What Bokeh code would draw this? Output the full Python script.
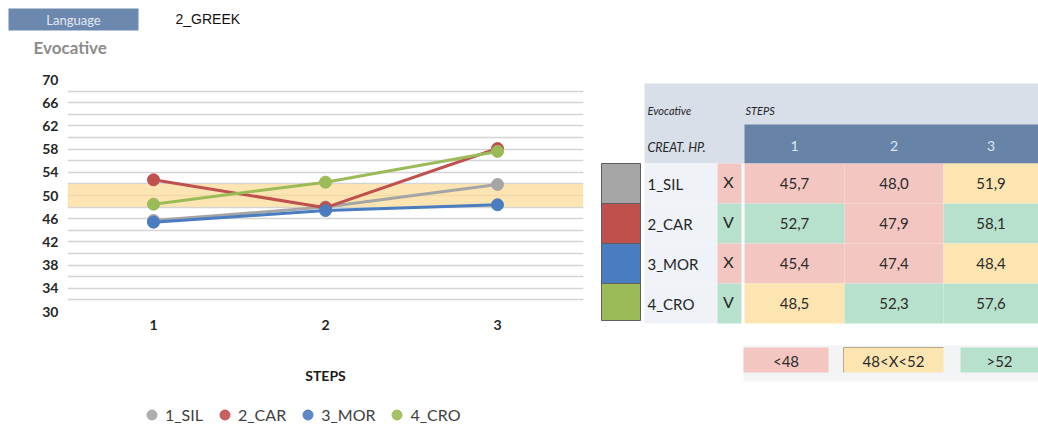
from bokeh.plotting import figure
from bokeh.layouts import column, row
from bokeh.models import (ColumnDataSource, FactorRange, Range1d, FixedTicker,
                          BoxAnnotation, Legend, LegendItem)
from bokeh.core.properties import value
from bokeh.embed import file_html
from bokeh.resources import INLINE

# ---- data ----
steps = ["1", "2", "3"]
series_names = ["1_SIL", "2_CAR", "3_MOR", "4_CRO"]
sil = [45.7, 48.0, 51.9]
car = [52.7, 47.9, 58.1]
mor = [45.4, 47.4, 48.4]
cro = [48.5, 52.3, 57.6]
hypothesis = ["X", "V", "X", "V"]
low_limit = 48
high_limit = 52
y_ticks = [30, 34, 38, 42, 46, 50, 54, 58, 62, 66, 70]
grid_ticks = list(range(30, 71, 2))
language = "2_GREEK"
section = "Evocative"

series_values = [sil, car, mor, cro]
series_colors = ["#a5a5a5", "#c0504d", "#4a7cc0", "#9bbb59"]

FONT = value("Lato")
PINK, YELLOW, GREEN = "#f4c6c2", "#fce5b1", "#b7e1cd"


def band_color(v):
    if v <= low_limit:
        return PINK
    if v < high_limit:
        return YELLOW
    return GREEN


def fmt(v):
    return f"{v:.1f}".replace(".", ",")


def blank(fig):
    fig.grid.visible = False
    fig.outline_line_color = None


# ---- header strip ----
head = figure(width=1038, height=62, x_range=Range1d(0, 1038), y_range=Range1d(62, 0),
              x_axis_type=None, y_axis_type=None, min_border=0, frame_align=False,
              output_backend="svg", toolbar_location=None)
blank(head)
head.quad(left=[8], right=[138], top=[8], bottom=[30], fill_color="#6d88ae", line_color=None)
head.text(x=[73], y=[19.5], text=["Language"], text_align="center", text_baseline="middle",
          text_font=FONT, text_font_size=value("13px"), text_color="#e3e9f1")
head.text(x=[175], y=[18], text=[language], text_align="left", text_baseline="middle",
          text_font=value("Liberation Sans"), text_font_size=value("14px"), text_color="#111111")
head.text(x=[33], y=[47], text=[section], text_align="left", text_baseline="middle",
          text_font=FONT, text_font_size=value("17px"), text_font_style="bold",
          text_color="#8c8c8c")

# ---- line chart ----
p = figure(width=590, height=328, x_range=FactorRange(*steps, range_padding=0),
           y_range=Range1d(30, 70), output_backend="svg", toolbar_location=None,
           frame_align=False,
           min_border_left=67, min_border_right=7, min_border_top=17, min_border_bottom=79)
p.outline_line_color = None
p.xgrid.visible = False
p.ygrid.ticker = FixedTicker(ticks=grid_ticks)
p.ygrid.grid_line_color = "#d4d4d4"
p.ygrid.grid_line_width = 1.6

# neutral band between the two limits
p.add_layout(BoxAnnotation(bottom=low_limit, top=high_limit, fill_color="#fbdc9a",
                           fill_alpha=0.75, line_color=None, level="underlay"))

p.yaxis.ticker = FixedTicker(ticks=y_ticks)
for ax in (p.xaxis[0], p.yaxis[0]):
    ax.axis_line_color = None
    ax.major_tick_line_color = None
    ax.minor_tick_line_color = None
    ax.major_tick_out = 0
    ax.minor_tick_out = 0
    ax.major_label_text_font = "Lato"
    ax.major_label_text_font_size = "14px"
    ax.major_label_text_font_style = "bold"
    ax.major_label_text_color = "#262626"
p.yaxis.major_label_standoff = 9
p.xaxis.major_label_standoff = 8
p.xaxis.axis_label = "STEPS"
p.xaxis.axis_label_text_font = "Lato"
p.xaxis.axis_label_text_font_size = "14px"
p.xaxis.axis_label_text_font_style = "bold"
p.xaxis.axis_label_text_color = "#1a1a1a"
p.xaxis.axis_label_standoff = 34

sources = []
for name, vals, col in zip(series_names, series_values, series_colors):
    src = ColumnDataSource(dict(x=steps, y=vals))
    sources.append(src)
    p.line("x", "y", source=src, line_color=col, line_width=3)
    p.scatter("x", "y", source=src, size=12, fill_color=col, line_color=col)

# ---- series key under the chart (its points fall outside this strip's range) ----
leg = figure(width=590, height=39, x_range=FactorRange(*steps), y_range=Range1d(0, 1),
             x_axis_type=None, y_axis_type=None, min_border=0, frame_align=False,
             output_backend="svg", toolbar_location=None)
blank(leg)
items = []
for name, src, col in zip(series_names, sources, series_colors):
    r = leg.scatter("x", "y", source=src, size=10, fill_color=col, line_color=col,
                    fill_alpha=0.9, line_alpha=0.9)
    items.append(LegendItem(label=name, renderers=[r]))
leg.add_layout(Legend(items=items, orientation="horizontal", location=(139, 2),
                      label_text_font="Lato", label_text_font_size="16px",
                      label_text_color="#404040", glyph_width=25, glyph_height=25,
                      label_standoff=1, spacing=9, padding=3, margin=0,
                      border_line_color=None, background_fill_alpha=0))

# ---- colour-coded table ----
t = figure(width=448, height=367, x_range=Range1d(590, 1038), y_range=Range1d(429, 62),
           x_axis_type=None, y_axis_type=None, min_border=0, frame_align=False,
           output_backend="svg", toolbar_location=None)
blank(t)

t.quad(left=[644], right=[1038], top=[83], bottom=[163], fill_color="#d8dfe9", line_color=None)
t.quad(left=[744], right=[1038], top=[124], bottom=[163], fill_color="#6883a8", line_color=None)

t.text(x=[647, 745], y=[110, 110], text=[section, "STEPS"], text_align="left",
       text_baseline="middle", text_font=FONT, text_font_size=value("11px"),
       text_font_style="italic", text_color="#262626")
t.text(x=[647], y=[147], text=["CREAT. HP."], text_align="left", text_baseline="middle",
       text_font=FONT, text_font_size=value("12.5px"), text_font_style="italic",
       text_color="#262626")

col_left = [744, 844, 943]
col_right = [844, 943, 1038]
col_mid = [(a + b) / 2 for a, b in zip(col_left, col_right)]
t.text(x=col_mid, y=[145] * 3, text=steps, text_align="center", text_baseline="middle",
       text_font=FONT, text_font_size=value("14px"), text_color="#dde6f1")

row_top = [163, 203, 243, 283]
row_bot = [203, 243, 283, 323]
row_mid = [(a + b) / 2 for a, b in zip(row_top, row_bot)]

# series colour swatches
swatch_bot = [203, 243, 283, 320]
t.quad(left=[601] * 4, right=[640] * 4, top=row_top, bottom=swatch_bot,
       fill_color=series_colors, line_color="#5e5e5e", line_width=1)

# row labels and hypothesis flags
t.quad(left=[644] * 4, right=[717] * 4, top=row_top, bottom=row_bot,
       fill_color="#eff2f6", line_color=None)
t.text(x=[647] * 4, y=row_mid, text=series_names, text_align="left", text_baseline="middle",
       text_font=FONT, text_font_size=value("15px"), text_color="#262626")
flag_colors = [GREEN if h == "V" else PINK for h in hypothesis]
t.quad(left=[717] * 4, right=[741] * 4, top=row_top, bottom=row_bot,
       fill_color=flag_colors, line_color=None)
t.text(x=[728] * 4, y=[m - 2 for m in row_mid], text=hypothesis, text_align="center",
       text_baseline="middle", text_font=FONT, text_font_size=value("16px"),
       text_color="#262626")

# value cells
cl, cr, ct, cb, cx, cy, ctext, ccol = [], [], [], [], [], [], [], []
for r, vals in enumerate(series_values):
    for c, v in enumerate(vals):
        cl.append(col_left[c]); cr.append(col_right[c])
        ct.append(row_top[r]); cb.append(row_bot[r])
        cx.append(col_mid[c]); cy.append(row_mid[r])
        ctext.append(fmt(v)); ccol.append(band_color(v))
t.quad(left=cl, right=cr, top=ct, bottom=cb, fill_color=ccol, line_color=None)
t.text(x=cx, y=cy, text=ctext, text_align="center", text_baseline="middle",
       text_font=FONT, text_font_size=value("15px"), text_color="#2b2b2b")

# band key
t.quad(left=[743], right=[1038], top=[345], bottom=[381], fill_color="#f3f4f6",
       line_color=None)
key_left = [743, 843, 960]
key_right = [828, 943, 1038]
key_colors = [PINK, YELLOW, GREEN]
key_text = [f"<{low_limit}", f"{low_limit}<X<{high_limit}", f">{high_limit}"]
t.quad(left=key_left, right=key_right, top=[347] * 3, bottom=[372] * 3,
       fill_color=key_colors, line_color=None)
t.segment(x0=[843, 843], y0=[347, 347], x1=[943, 843], y1=[347, 372],
          line_color="#b5a98a", line_width=1)
t.text(x=[(a + b) / 2 for a, b in zip(key_left, key_right)], y=[360] * 3, text=key_text,
       text_align="center", text_baseline="middle", text_font=FONT,
       text_font_size=value("15px"), text_color="#2b2b2b")

layout = column(head, row(column(p, leg, spacing=0), t, spacing=0), spacing=0)
open("out.html", "w").write(file_html(layout, INLINE))
